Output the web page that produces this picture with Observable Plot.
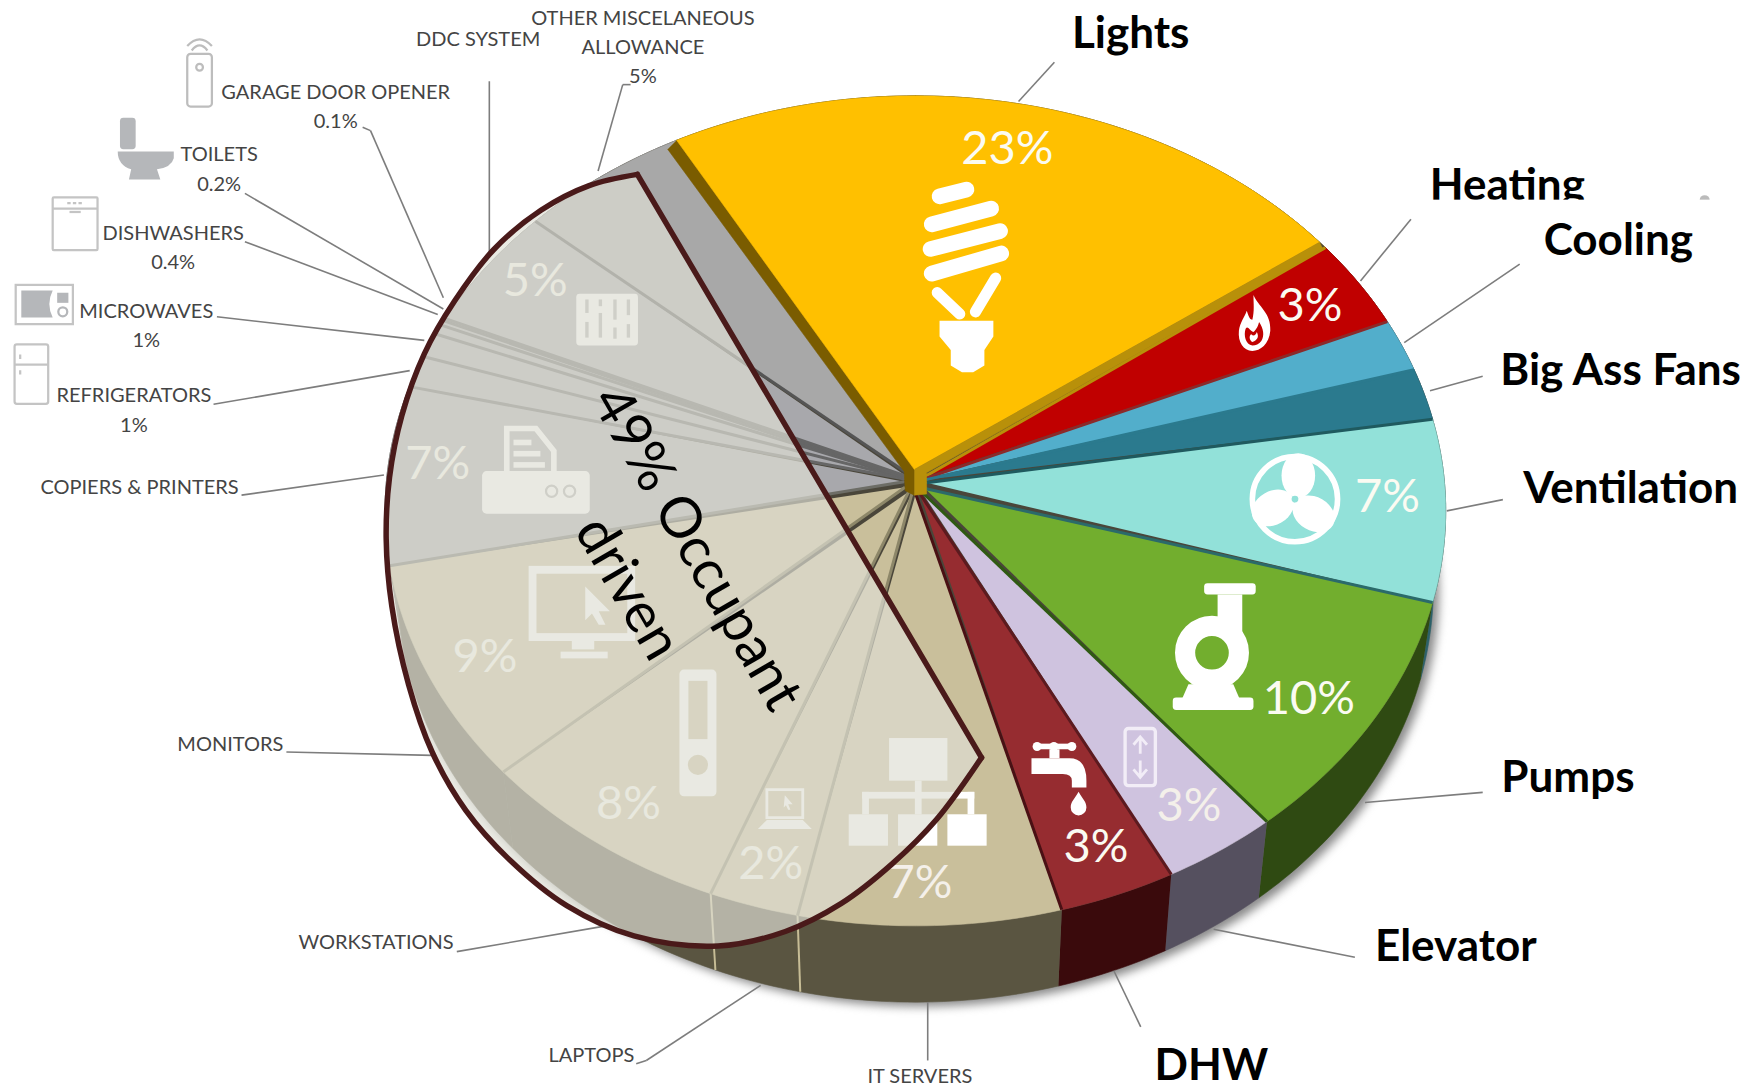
<!DOCTYPE html>
<html>
<head>
<meta charset="utf-8">
<style>html,body{margin:0;padding:0;background:#fff}svg{display:block}</style>
<script src="https://cdn.jsdelivr.net/npm/d3@7"></script>
<script src="https://cdn.jsdelivr.net/npm/@observablehq/plot@0.6"></script>
</head>
<body>
<script>
// Building energy end uses, clockwise from the top-left edge of Lights.
const endUses = ["Lights","Heating","Cooling","Big Ass Fans","Ventilation","Pumps","Elevator","DHW","IT Servers","Laptops","Workstations","Monitors","Copiers & Printers","Refrigerators","Microwaves","Dishwashers","Toilets","Garage Door Opener","DDC System","Other Miscelaneous Allowance"];
const shares = [23,3,2,2,7,10,3,3,7,2,8,9,7,1,1,0.4,0.2,0.1,5,5];
const topColors = ["#ffc000","#c00000","#52aecb","#2b7a8e","#92e1d9","#72ae2e","#cfc3df","#962c30","#c9bf9b","#c9bf9b","#c9bf9b","#c9bf9b","#a8a8ac","#a8a8ac","#a8a8ac","#a8a8ac","#a8a8ac","#a8a8ac","#a8a8ac","#a8a8a8"];
const sideColors = ["#7a5c00","#700000","#2c5f70","#24586a","#2c6068","#2f4a12","#55505f","#3a0a0c","#5a5541","#5a5541","#5a5541","#5a5541","#77776a","#77776a","#77776a","#77776a","#77776a","#77776a","#77776a","#77776a"];
const edgeColors = ["#7a5c00","#b8900a","#8c2a2a","#2b7a8e","#1f5a5f","#2b6a6a","#2f5a12","#5c1a1f","#4a1014","#8d8769","#8d8769","#8d8769","#6d6d66","#666","#666","#666","#666","#666","#666","#555"];

// Value labels printed on the wedges.
const pctIndex = [0,1,4,5,6,7,8,9,10,11,12,18];
const pctX = [898,1168,1237,1167,1060,977,820,687,560,432,390,477];
const pctY = [132,272,443,623,718,755,787,770,716,585,413,250];

// Bold call-outs for the building-driven loads.
const boldText = ["Lights","Heating","Cooling","Big Ass Fans","Ventilation","Pumps","Elevator","DHW"];
const boldX = [1008,1344,1443,1445,1454,1398,1298,1080];
const boldY = [30,165,214,330,435,693,844,950];

// Small grey call-outs for the occupant-driven loads.
const smallText = ["GARAGE DOOR OPENER","0.1%","TOILETS","0.2%","DISHWASHERS","0.4%","MICROWAVES","1%","REFRIGERATORS","1%","COPIERS & PRINTERS","DDC SYSTEM","OTHER MISCELANEOUS","ALLOWANCE","5%","MONITORS","WORKSTATIONS","LAPTOPS","IT SERVERS"];
const smallX = [299,299,195,195,154,154,130,130,119,119,124,426,573,573,573,205,335,527,820];
const smallY = [82,108,137,164,208,234,277,303,352,379,434,35,16,42,68,663,840,941,959];

// Leader lines: [x1, y1, x2, y2]
const leaders = [
  [908,90,940,55],[1213,250,1258,195],[1252,305,1355,235],[1275,348,1322,335],[1290,455,1340,445],
  [1217,715,1322,706],[1082,828,1208,853],[993,865,1017,915],[827,893,827,945],[678,878,576,945],
  [576,945,567,948],[407,848,540,825],[255,670,385,673],[215,441,342,423],[190,360,365,330],
  [193,282,378,303],[218,215,390,280],[218,172,395,275],[323,113,330,116],[330,116,395,265],
  [436,72,436,225],[555,75,533,152],[555,75,562,75]
];

// Outline of the occupant-driven call-out region.
const calloutX = [568,525,482,440,405,378,358,347,344,349,364,385,415,455,505,565,640,700,750,795,835,875];
const calloutY = [155,165,187,222,268,315,370,425,480,540,610,670,722,767,807,834,843,830,805,770,730,675];

// The tilted disc: upper rim, lower rim, and the hub the wedges converge on.
const rim = {cx:816, cy:455, rx:473, ry:370};
const base = {cx:816, cy:523, rx:462, ry:370};
const hub = {x:816, y:430, spread:10};
const startDeg = -28;
const degPerPercent = 3.6;
const rad = Math.PI / 180;
// Foreshortening: the far side of the disc compresses, the near side stretches.
const warp = (deg) => deg + 1.5 + 6 * Math.sin((deg - 164) * rad);
// Per-wedge trim of each closing edge along the rim, in degrees.
const rimTrim = [0,1.7,1.8,1.7,1.2,-1.9,-1.1,-0.2,0.9,2.9,0.3,-1.5,-1,0,0,0,0,0,0,0];
const onEllipse = (e, deg) => ({x: e.cx + e.rx * Math.sin(deg * rad), y: e.cy - e.ry * Math.cos(deg * rad)});
const arc = (e, a, b) => {
  const n = Math.max(2, Math.ceil(Math.abs(b - a)));
  return d3.range(n + 1).map((i) => onEllipse(e, a + (b - a) * i / n));
};

let running = startDeg;
let previousEnd = warp(startDeg);
const slices = endUses.map((name, i) => {
  running += shares[i] * degPerPercent;
  const t0 = previousEnd, t1 = warp(running) + rimTrim[i];
  previousEnd = t1;
  const mid = (t0 + t1) / 2;
  const apex = i === 0
    ? {x: 815, y: 418}
    : {x: hub.x + hub.spread * Math.sin(mid * rad), y: hub.y - hub.spread * Math.cos(mid * rad)};
  return {name, share: shares[i], t0, t1, apex, top: topColors[i], side: sideColors[i], edge: edgeColors[i]};
});
// The last wedge runs on to the raised Lights wedge, and Lights sits a little back.
slices[0].t0 -= 1.5;
slices[slices.length - 1].t1 = slices[0].t0 + 360;

const poly = (pts, fill, extra = {}) => Plot.line(pts, {x: "x", y: "y", fill, stroke: fill, strokeWidth: 0.6, ...extra});

// Icons drawn in wedge units, top-left anchored.
const iconArt = {
  bulb: `<g stroke="#fff" stroke-width="14" stroke-linecap="round" fill="none"><path d="M16 13L40 7"/><path d="M9 38L62 24"/><path d="M8 60L70 44"/><path d="M9 82L71 64"/><path d="M14 99L34 118" stroke-width="10"/><path d="M66 86L48 116" stroke-width="10"/></g><path fill="#fff" d="M16 124h48v14l-8 12v14l-10 6h-10l-10-6v-14l-10-12z"/>`,
  flame: `<path fill="#fff" d="M14 0C18 10 30 16 29 32C28 44 20 50 13 50C5 50 0 42 1 32C2 24 6 20 8 14C10 20 11 22 13 22C15 14 14 8 14 0Z"/><path fill="#c00000" d="M13 45C7 44 5 36 7 30C9 27 10 31 14 33C17 30 18 28 19 24C23 30 24 36 21 41C19 44 16 45 13 45Z"/><path fill="#fff" d="M13 42C10 40 10 36 12 35C14 37 16 36 17 33C19 37 18 40 13 42Z"/>`,
  fan: `<circle cx="41" cy="41" r="38" fill="none" stroke="#fff" stroke-width="5"/><g fill="#fff"><ellipse cx="44" cy="20" rx="15" ry="20"/><ellipse cx="44" cy="20" rx="15" ry="20" transform="rotate(120 41 41)"/><ellipse cx="44" cy="20" rx="15" ry="20" transform="rotate(240 41 41)"/></g><circle cx="41" cy="41" r="3" fill="#92e1d9"/>`,
  pump: `<g fill="#fff"><rect x="28" y="0" width="46" height="10" rx="3"/><rect x="40" y="10" width="22" height="50"/><path d="M14 90h40l6 14h-52z"/><rect x="0" y="102" width="72" height="11" rx="3"/></g><circle cx="35" cy="62" r="24" fill="#72ae2e" stroke="#fff" stroke-width="18"/>`,
  elevator: `<rect x="1.5" y="1.5" width="27" height="51" rx="3" fill="none" stroke="#f2edf7" stroke-width="3"/><g fill="none" stroke="#f2edf7" stroke-width="2.5"><path d="M15 10V24M9 16L15 9L21 16"/><path d="M15 30V45M9 38L15 45L21 38"/></g>`,
  faucet: `<g fill="#fff"><rect x="6" y="3" width="30" height="5"/><circle cx="5" cy="5.5" r="4"/><circle cx="20" cy="5.5" r="4"/><circle cx="36" cy="5.5" r="4"/><rect x="16" y="8" width="9" height="8"/><path d="M0 16h34q15 0 15 20v6h-13v-6q0-6-8-6h-28z"/><path d="M42 46C46 53 49 55 49 60A7 7 0 0 1 35 60C35 55 38 53 42 46Z"/></g>`,
  network: `<g fill="#fff"><rect x="36" y="0" width="52" height="38"/><rect x="59" y="38" width="6" height="30"/><rect x="12" y="48" width="100" height="6"/><rect x="12" y="48" width="6" height="20"/><rect x="106" y="48" width="6" height="20"/><rect x="0" y="68" width="35" height="28"/><rect x="44" y="68" width="35" height="28"/><rect x="88" y="68" width="35" height="28"/></g>`,
  laptop: `<rect x="8" y="1" width="32" height="25" fill="none" stroke="#fff" stroke-width="2.5"/><path d="M0 36L8 28H40L48 36Z" fill="#fff"/><path d="M24 6L31 14L27 14L29 19L27 19L25 15L23 17Z" fill="#fff"/>`,
  tower: `<rect width="33" height="113" rx="4" fill="#fff"/><rect x="8" y="10" width="17" height="52" fill="#c9bf9b"/><circle cx="16.5" cy="85" r="9" fill="#c9bf9b"/>`,
  monitor: `<rect x="3" y="3" width="88" height="60" fill="none" stroke="#fff" stroke-width="7"/><path d="M38 66h20v8h-20z" fill="#fff"/><rect x="28" y="76" width="42" height="6" fill="#fff"/><path d="M50 18L72 40L62 40L68 52L62 52L56 42L50 48Z" fill="#fff"/>`,
  printer: `<path d="M22 2h26l16 20v22h-42z" fill="none" stroke="#fff" stroke-width="5"/><g fill="#fff"><rect x="28" y="12" width="16" height="5"/><rect x="28" y="22" width="24" height="5"/><rect x="28" y="32" width="28" height="5"/><rect x="0" y="40" width="96" height="38" rx="4"/></g><g fill="none" stroke="#adadad" stroke-width="2"><circle cx="62" cy="58" r="5"/><circle cx="78" cy="58" r="5"/></g>`,
  panel: `<rect width="55" height="46" rx="3" fill="#fff"/><g fill="#adadad"><rect x="8" y="5" width="3" height="12"/><rect x="8" y="25" width="3" height="14"/><rect x="20" y="5" width="3" height="6"/><rect x="20" y="17" width="3" height="22"/><rect x="33" y="5" width="3" height="18"/><rect x="33" y="30" width="3" height="10"/><rect x="45" y="5" width="3" height="14"/><rect x="45" y="27" width="3" height="12"/></g>`,
  remote: `<g fill="none" stroke="#bdbdbd" stroke-width="2"><rect x="2" y="18" width="22" height="47" rx="3" fill="#fff"/><circle cx="13" cy="30" r="3"/><path d="M2 11Q13 -1 24 11"/><path d="M6 15Q13 6 20 15"/></g>`,
  toilet: `<g fill="#b5b7ba"><rect x="2" y="0" width="14" height="28" rx="3"/><path d="M0 30H50V36Q48 44 35 46L38 55H10L12 46Q0 42 0 30Z"/></g>`,
  dishwasher: `<g fill="none" stroke="#c4c4c4" stroke-width="2"><rect x="1" y="1" width="40" height="47" rx="1" fill="#fff"/><path d="M1 11H41"/><path d="M14 6H28" stroke-dasharray="3 2"/><path d="M16 14H26"/></g>`,
  microwave: `<rect x="1" y="1" width="51" height="35" fill="#fff" stroke="#c4c4c4" stroke-width="2"/><path d="M6 6H34Q28 18 34 30H6Z" fill="#b5b7ba"/><rect x="38" y="8" width="10" height="9" fill="#b5b7ba"/><circle cx="43" cy="25" r="4" fill="none" stroke="#b5b7ba" stroke-width="2"/>`,
  fridge: `<g fill="none" stroke="#c4c4c4" stroke-width="2"><rect x="1" y="1" width="30" height="53" rx="2" fill="#fff"/><path d="M1 19H31"/><path d="M6 10V14M6 24V28"/></g>`
};
const iconNames = ["bulb","flame","fan","pump","elevator","faucet","network","laptop","tower","monitor","printer","panel","remote","toilet","dishwasher","microwave","fridge"];
const iconX = [822,1104,1114,1046,1002,920,757,676,606,472,430,514,165,105,46,13,12];
const iconY = [162,263,404,520,648,660,658,703,597,505,380,262,30,105,175,253,306];

const drawIcons = (index, {x, y}) => {
  const g = d3.create("svg:g");
  const k = 1758 / 1568;
  iconNames.forEach((name, i) => {
    g.append("g")
      .attr("transform", `translate(${x(iconX[i])},${y(iconY[i])}) scale(${k})`)
      .html(iconArt[name]);
  });
  return g.node();
};

const lights = slices[0];
const lightsStart = onEllipse(rim, lights.t0);
const lightsEnd = onEllipse(rim, lights.t1 - 1);

const bold = {fontFamily: "Lato", fontWeight: 700, fontSize: 44, fill: "#000"};
const small = {fontFamily: "Lato", fontSize: 20, fill: "#444"};

const chart = Plot.plot({
  width: 1758,
  height: 1088,
  margin: 0,
  style: {background: "#fff"},
  x: {domain: [0, 1568], range: [0, 1758], axis: null},
  y: {domain: [0, 970], range: [0, 1088], axis: null},
  marks: [
    // Soft shadow under the disc
    Plot.line(arc({...base, cx: base.cx + 5, cy: base.cy + 4}, 0, 360), {x: "x", y: "y", fill: "#8a8a8a", stroke: "none", imageFilter: "blur(5px)"}),
    // Wall of the disc
    ...slices.map((s) => poly([...arc(rim, s.t0, s.t1), ...arc(base, s.t1, s.t0)], s.side)),
    // Light seams on the wall
    Plot.link(slices.slice(8, 10), {
      x1: (s) => onEllipse(rim, s.t1).x, y1: (s) => onEllipse(rim, s.t1).y,
      x2: (s) => onEllipse(base, s.t1).x, y2: (s) => onEllipse(base, s.t1).y,
      stroke: "#c7bd96", strokeWidth: 2
    }),
    poly(arc(rim, 0, 360), "#4a463a"),
    // Top faces
    ...slices.slice(1).map((s) => poly([s.apex, ...arc(rim, s.t0, s.t1)], s.top)),
    // Wedge edges
    Plot.link(slices.slice(1), {
      x1: (s) => s.apex.x, y1: (s) => s.apex.y,
      x2: (s) => onEllipse(rim, s.t0).x, y2: (s) => onEllipse(rim, s.t0).y,
      stroke: "edge", strokeWidth: 3
    }),
    // Raised Lights wedge with its two visible walls
    poly([lightsStart, lights.apex, {x: 815, y: 441}, {x: 807, y: 437}, {x: 806, y: 420}, {x: lightsStart.x - 8, y: lightsStart.y + 8}], "#7a5c00"),
    poly([lights.apex, lightsEnd, {x: lightsEnd.x + 3, y: lightsEnd.y + 6}, {x: 826, y: 421}, {x: 826, y: 440}, {x: 815, y: 441}], "#b8900a"),
    poly([lights.apex, ...arc(rim, lights.t0, lights.t1 - 1)], lights.top),
    // Leader lines
    Plot.link(leaders, {x1: (d) => d[0], y1: (d) => d[1], x2: (d) => d[2], y2: (d) => d[3], stroke: "#7d7d7d", strokeWidth: 1.6}),
    // Icons
    drawIcons,
    // Wedge percentages
    Plot.text(pctIndex, {
      x: (i, j) => pctX[j], y: (i, j) => pctY[j],
      text: (i) => `${shares[i]}%`,
      fontFamily: "Lato", fontWeight: 400, fontSize: 47,
      fill: (i) => (i === 6 || i === 8 ? "#f4f0ea" : "#fbfbf2")
    }),
    // Call-out labels
    Plot.text(smallText, {x: (d, i) => smallX[i], y: (d, i) => smallY[i], text: (d) => d, ...small}),
    Plot.dot([0], {x: () => 1520, y: () => 178, r: 5, fill: "#bbb"}),
    Plot.text(boldText.slice(0, 2), {x: (d, i) => boldX[i], y: (d, i) => boldY[i], text: (d) => d, ...bold}),
    // The mask trims the lower edge of the Heating label
    Plot.rect([0], {x1: () => 1270, x2: () => 1530, y1: () => 178, y2: () => 194, fill: "#fff"}),
    Plot.text(boldText.slice(2), {x: (d, i) => boldX[i + 2], y: (d, i) => boldY[i + 2], text: (d) => d, ...bold}),
    // Occupant-driven region
    Plot.line(calloutX, {x: (d) => d, y: (d, i) => calloutY[i], curve: "catmull-rom", fill: "#dfded4", fillOpacity: 0.68, stroke: "none"}),
    Plot.line(calloutX, {x: (d) => d, y: (d, i) => calloutY[i], curve: "catmull-rom", stroke: "#4a1a1a", strokeWidth: 5.5, fill: "none"}),
    Plot.link([0], {x1: () => calloutX[0], y1: () => calloutY[0], x2: () => calloutX[calloutX.length - 1], y2: () => calloutY[calloutY.length - 1], stroke: "#4a1a1a", strokeWidth: 5.5, strokeLinecap: "round"}),
    Plot.text(["49% Occupant\ndriven"], {
      x: () => 596, y: () => 503, text: (d) => d, rotate: 60,
      fontFamily: "Lato", fontSize: 56, lineHeight: 1.42, fill: "#000"
    })
  ]
});
document.body.append(chart);
</script>
</body>
</html>
